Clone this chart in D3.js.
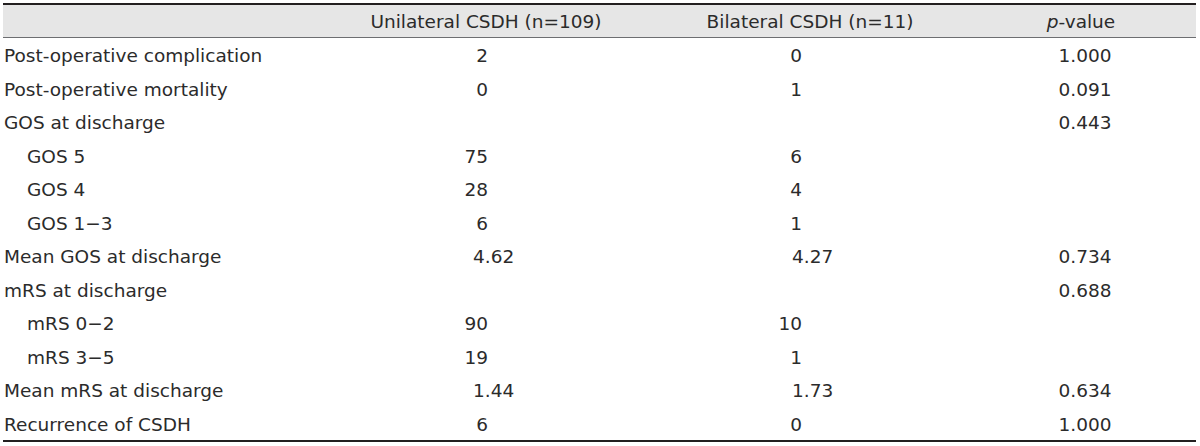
<!DOCTYPE html>
<html>
<head>
<meta charset="utf-8">
<script src="https://cdn.jsdelivr.net/npm/d3@7"></script>
<style>
  body { margin: 0; background: #fff; }
  svg text { font-family: "DejaVu Sans", sans-serif; fill: #2b2b2b; }
</style>
</head>
<body>
<script>
document.addEventListener("DOMContentLoaded", function(){
  // table content
  var headers = ["", "Unilateral CSDH (n=109)", "Bilateral CSDH (n=11)", "p-value"];
  var labels = ["Post-operative complication", "Post-operative mortality", "GOS at discharge",
                "GOS 5", "GOS 4", "GOS 1\u22123", "Mean GOS at discharge", "mRS at discharge",
                "mRS 0\u22122", "mRS 3\u22125", "Mean mRS at discharge", "Recurrence of CSDH"];
  var indented = [false, false, false, true, true, true, false, false, true, true, false, false];
  var unilateral = ["2", "0", "", "75", "28", "6", "4.62", "", "90", "19", "1.44", "6"];
  var bilateral = ["0", "1", "", "6", "4", "1", "4.27", "", "10", "1", "1.73", "0"];
  var pValues = ["1.000", "0.091", "0.443", "", "", "", "0.734", "0.688", "", "", "0.634", "1.000"];

  var width = 1200;
  var height = 446;
  var left = 3, right = 1196;
  var headTop = 5, headBottom = 38, tableBottom = 440;
  var fontSize = 18.5;

  var svg = d3.select("body").append("svg")
              .attr("width", width)
              .attr("height", height);

  var y = d3.scaleBand().domain(d3.range(labels.length)).range([headBottom, tableBottom]);

  // header band
  svg.append("rect")
    .attr("x", left).attr("y", headTop)
    .attr("width", right - left).attr("height", headBottom - headTop)
    .attr("fill", "#e6e6e6");
  svg.append("line")
    .attr("x1", left).attr("x2", right).attr("y1", 4).attr("y2", 4)
    .attr("stroke", "#231f20").attr("stroke-width", 2);
  svg.append("line")
    .attr("x1", left).attr("x2", right).attr("y1", headBottom - 0.5).attr("y2", headBottom - 0.5)
    .attr("stroke", "#6d6e71").attr("stroke-width", 1);
  svg.append("line")
    .attr("x1", left).attr("x2", right).attr("y1", tableBottom + 1).attr("y2", tableBottom + 1)
    .attr("stroke", "#231f20").attr("stroke-width", 2);

  // header text
  var headX = [0, 486, 810, 1081];
  var head = svg.append("g").attr("font-size", fontSize);
  head.append("text").attr("x", headX[1]).attr("y", (headTop + headBottom) / 2)
    .attr("dy", "0.35em").attr("text-anchor", "middle").text(headers[1]);
  head.append("text").attr("x", headX[2]).attr("y", (headTop + headBottom) / 2)
    .attr("dy", "0.35em").attr("text-anchor", "middle").text(headers[2]);
  var pv = head.append("text").attr("x", headX[3]).attr("y", (headTop + headBottom) / 2)
    .attr("dy", "0.35em").attr("text-anchor", "middle");
  pv.append("tspan").attr("font-style", "italic").text(headers[3].slice(0, 1));
  pv.append("tspan").text(headers[3].slice(1));

  var body = svg.append("g").attr("font-size", fontSize);
  var rows = body.selectAll("g.row").data(labels).enter().append("g")
    .attr("class", "row")
    .attr("transform", function(d, i) { return "translate(0," + (y(i) + y.bandwidth() / 2 + 1) + ")"; });

  rows.append("text")
    .attr("x", function(d, i) { return indented[i] ? 27 : 4; })
    .attr("dy", "0.35em")
    .text(function(d) { return d; });

  // counts right-aligned, means start a bit further left
  function placeValue(sel, values, intEnd, decStart) {
    sel.append("text")
      .attr("dy", "0.35em")
      .attr("x", function(d, i) { return values[i].indexOf(".") >= 0 ? decStart : intEnd; })
      .attr("text-anchor", function(d, i) { return values[i].indexOf(".") >= 0 ? "start" : "end"; })
      .text(function(d, i) { return values[i]; });
  }
  placeValue(rows, unilateral, 488, 473);
  placeValue(rows, bilateral, 802, 792);

  rows.append("text")
    .attr("x", 1085)
    .attr("dy", "0.35em")
    .attr("text-anchor", "middle")
    .text(function(d, i) { return pValues[i]; });
});
</script>
</body>
</html>
